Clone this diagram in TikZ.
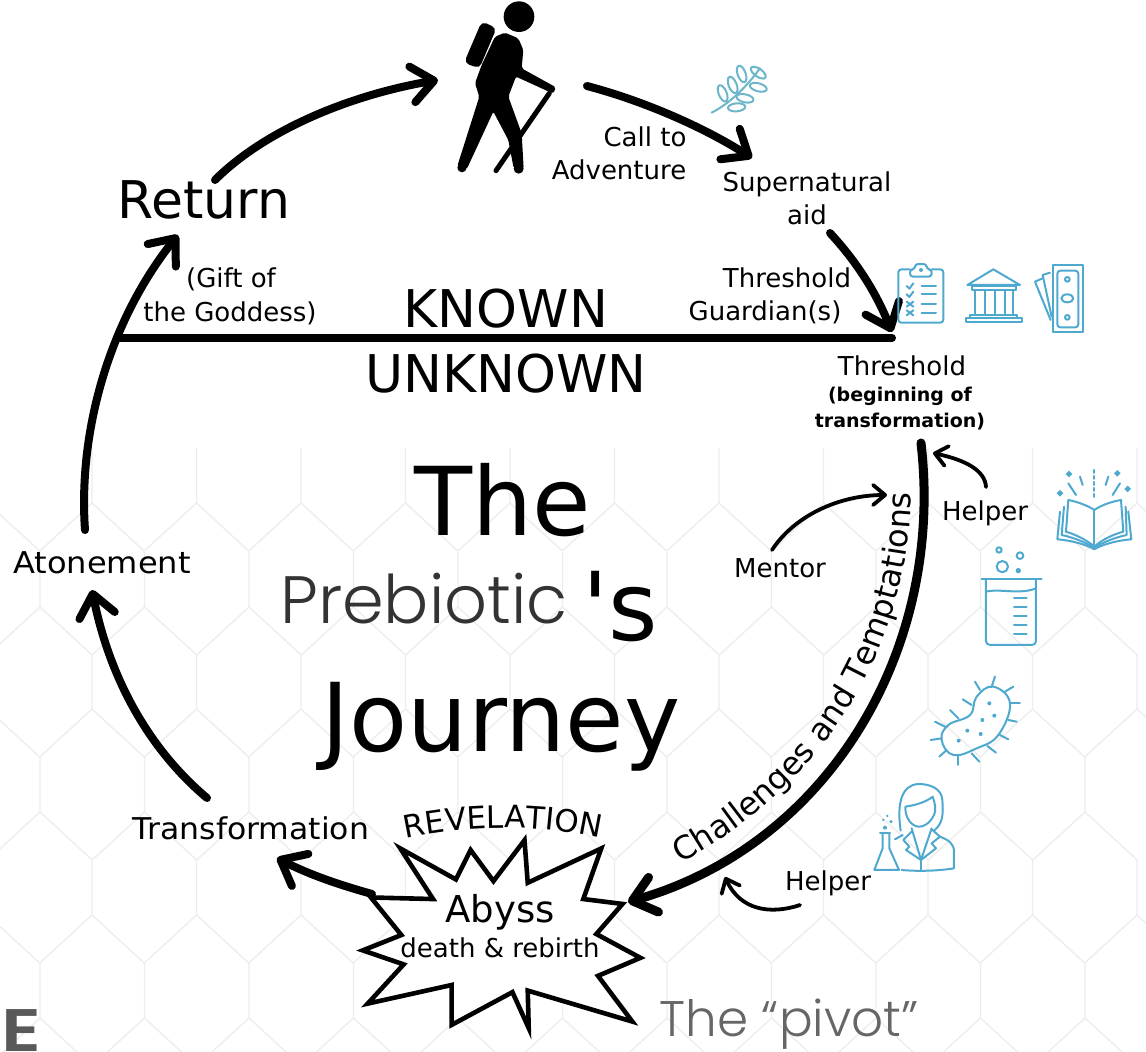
\documentclass[tikz,border=0pt]{standalone}
\usepackage{fontspec}
\setmainfont{DejaVu Sans}
\newfontfamily\plainfont{DejaVu Sans}
\newfontfamily\prefont{Poppins Light}
\newfontfamily\markfont{Poppins SemiBold}
\usetikzlibrary{arrows.meta,decorations.text}
\definecolor{iconblue}{HTML}{4FA9CF}
\definecolor{leafblue}{HTML}{6DB5C9}
\newcommand\sz[1]{\fontsize{#1}{#1}\selectfont}
\tikzset{
  word/.style={anchor=base,inner sep=0pt,font=\sz{26}},
  trail/.style={line width=8pt,line cap=round,-{Straight Barb[length=22pt,width=36pt,round]}},
  thin trail/.style={line width=3.8pt,line cap=round,-{Straight Barb[length=12pt,width=20pt,round]}},
  icon/.style={draw=iconblue,line width=2pt,line join=round,line cap=round},
  hexline/.style={draw=black!7,line width=1.4pt},
}
\begin{document}
\begin{tikzpicture}[x=1pt,y=-1pt]
\useasboundingbox (0,0) rectangle (1146,1052);

% background
\foreach \row/\xa in {448/92,552/40,654/92,757/40,860/92,963/40}{
  \foreach \i in {-1,...,10}{
    \draw[hexline] (\xa+104.5*\i,\row) -- (\xa+104.5*\i,\row+55)
      -- (\xa+104.5*\i+52.2,\row+103);
    \draw[hexline] (\xa+104.5*\i,\row+55) -- (\xa+104.5*\i-52.2,\row+103);
  }
}

% hiker
\begin{scope}[shift={(440,0)},scale=0.3333]
\fill (237,50) circle (46);
\draw[line width=10pt,line join=round,fill=black] (92,180) -- (133,84) -- (150,92) -- (110,186) -- cycle;
\fill[rounded corners=2pt] (195,98) -- (235,115) -- (250,150) -- (245,205) -- (348,262) -- (340,280)
  -- (320,272) -- (228,230) -- (205,290) -- (245,400) -- (251,505) -- (221,505)
  -- (205,420) -- (160,335) -- (80,508) -- (52,498) -- (118,290) -- (105,250)
  -- (125,195) -- (165,110) -- cycle;
\fill (66,503) circle (14);
\fill (236,506) circle (15);
\draw[line width=5pt,line cap=round] (328,280) -- (168,512);
\end{scope}

% main words
\node[word,font=\sz{52}] (return) at (204,218) {Return};
\node[word,font=\sz{52}] (known) at (506,327) {KNOWN};
\node[word,font=\sz{52}] (unknown) at (506,392) {UNKNOWN};
\node[word,font=\sz{95}] (the) at (503,535) {The};
\node[word,font=\plainfont\sz{95}] (apos) at (620,640) {'s};
\node[word,font=\sz{95}] (journey) at (501,751) {Journey};
\node[word,font=\prefont\sz{67},text=black!80] (prebiotic) at (424,623) {Prebiotic};
\node[word,font=\prefont\sz{50},text=black!60] (pivot) at (789,1036) {The “pivot”};
\node[word,font=\markfont\sz{60},xscale=1.25,text=black!65] (mark) at (21,1051) {E};

\node[word] (call) at (645,146) {Call to};
\node[word] (adventure) at (619,179) {Adventure};
\node[word] (supernatural) at (807,191) {Supernatural};
\node[word] (aid) at (807,224) {aid};
\node[word] (guardA) at (787,287) {Threshold};
\node[word] (guardB) at (765,320) {Guardian(s)};
\node[word] (gift) at (231,287) {(Gift of};
\node[word] (goddess) at (230,321) {the Goddess)};
\node[word] (threshold) at (902,375) {Threshold};
\node[word,font=\bfseries\sz{19}] (beginning) at (900,401) {(beginning of};
\node[word,font=\bfseries\sz{19}] (transf) at (900,427) {transformation)};
\node[word] (helperA) at (985,520) {Helper};
\node[word] (mentor) at (780,577) {Mentor};
\node[word] (helperB) at (828,890) {Helper};
\node[word,font=\sz{30},xscale=1.07] (atonement) at (102,573) {Atonement};
\node[word,font=\sz{30},xscale=1.05] (transformation) at (251,839) {Transformation};

% abyss
\begin{scope}[shift={(500,935)},scale=0.98,shift={(-500,-935)}]
\draw[fill=white,line width=4.6pt,miter limit=20] (398.3,846.7) -- (455,878.3) -- (470,848.3) -- (493.3,880)
  -- (525,838.3) -- (528.3,881.7) -- (603.3,846.7) -- (585,898.3) -- (625,903.3) -- (598.3,934)
  -- (643.3,958.3) -- (600,976.7) -- (635,1023.3) -- (528.3,991.7) -- (529.3,1030) -- (512.7,993.3)
  -- (450.7,1026.7) -- (450.7,986) -- (365,1005) -- (401.7,965) -- (360,950.7) -- (399.3,935)
  -- (368.3,896.7) -- (431.7,898.3) -- cycle;
\end{scope}
\node[word,font=\sz{37}] (abyss) at (500,922) {Abyss};
\node[word] (rebirth) at (500,957) {death \& rebirth};

% curved words
\path[decorate,decoration={text along path,text align=center,
  text={|\sz{31}|REVELATION}}] (398,840) .. controls (465,824) and (540,824) .. (608,840);
\path[decorate,decoration={text along path,text align=center,
  text={|\sz{32}|Challenges and Temptations}}] (682,862) .. controls (808,795) and (908,665) .. (911,495);

% connector ends
\coordinate (hikerin) at (438,80);
\coordinate (hikerout) at (587,86);
\coordinate (aidin) at (752,158);
\coordinate (aidout) at (830,233);
\coordinate (gate) at (892,332);
\coordinate (lineleft) at (118,338);
\coordinate (lineright) at (892,338);
\coordinate (gateout) at (921,443);
\coordinate (abyssin) at (628,902);
\coordinate (abyssout) at (372,894);
\coordinate (transfin) at (277,858);
\coordinate (transfout) at (207,798);
\coordinate (atonein) at (92,590);
\coordinate (atoneout) at (85,530);
\coordinate (returnin) at (178,235);
\coordinate (returnout) at (215,180);
\coordinate (helpAout) at (986,487);
\coordinate (helpAin) at (933,453);
\coordinate (mentorout) at (772,550);
\coordinate (mentorin) at (887,495);
\coordinate (helpBout) at (800,905);
\coordinate (helpBin) at (725,877);

\draw[trail] (atoneout) .. controls (78,430) and (110,320) .. (returnin);
\draw[trail] (returnout) .. controls (265,130) and (350,95) .. (hikerin);
\draw[trail] (hikerout) .. controls (640,100) and (700,125) .. (aidin);
\draw[trail] (aidout) .. controls (855,260) and (875,290) .. (gate);
\draw[line width=8pt,line cap=round] (lineleft) -- (lineright);
\draw[trail,line width=9pt] (gateout) .. controls (945,650) and (828,845) .. (abyssin);
\draw[trail] (abyssout) .. controls (340,885) and (310,875) .. (transfin);
\draw[trail] (transfout) .. controls (150,750) and (110,680) .. (atonein);
\draw[thin trail] (helpAout) .. controls (985,470) and (965,460) .. (helpAin);
\draw[thin trail] (mentorout) .. controls (795,515) and (840,495) .. (mentorin);
\draw[thin trail] (helpBout) .. controls (770,915) and (740,910) .. (helpBin);

% icons
\begin{scope}[shift={(440,0)},scale=0.3333,icon/.append style={draw=leafblue}]
\draw[icon] (815,338) .. controls (870,310) and (920,260) .. (960,205);
\foreach \lx/\ly/\la in {848/280/-68,878/255/-68,905/222/-70,955/218/-35,955/262/-15,915/295/-12,890/322/5}
  \draw[icon] (\lx,\ly) ellipse[x radius=26,y radius=12,rotate=\la];
\end{scope}

\begin{scope}[shift={(860,250)},scale=0.3333]
% clipboard
\draw[icon,rounded corners=3pt] (150,58) -- (115,58) -- (115,218) -- (250,218) -- (250,58) -- (215,58);
\draw[icon,rounded corners=3pt] (150,80) -- (150,58) -- (165,58) -- (165,42) -- (200,42) -- (200,58) -- (215,58) -- (215,80) -- cycle;
\fill[iconblue] (183,60) circle (6);
\foreach \ry in {108,133,162,188}
  \draw[icon] (185,\ry) -- (228,\ry);
\draw[icon] (140,108) -- (148,116) -- (160,100);
\draw[icon] (140,133) -- (148,141) -- (160,125);
\draw[icon] (140,155) -- (160,170) (160,155) -- (140,170);
\draw[icon] (140,181) -- (160,196) (160,181) -- (140,196);
% bank
\draw[icon] (322,105) -- (400,58) -- (480,105) -- cycle;
\draw[icon] (335,108) rectangle (468,120);
\foreach \cx in {345,375,405,435,460}
  \draw[icon] (\cx,120) -- (\cx,195);
\draw[icon] (330,195) rectangle (470,205);
\draw[icon] (318,205) rectangle (487,215);
% banknotes
\draw[icon] (580,45) rectangle (668,245);
\draw[icon,rounded corners=3pt] (592,62) rectangle (655,232);
\draw[icon] (622,145) ellipse[x radius=18,y radius=12];
\draw[icon] (622,88) circle (7);
\draw[icon] (622,202) circle (7);
\draw[icon] (570,68) -- (548,75) -- (575,200);
\draw[icon] (548,85) -- (525,95) -- (572,210);
% book
\draw[icon] (703,780) -- (703,890);
\draw[icon] (703,780) .. controls (680,765) and (650,755) .. (625,750) -- (618,845) .. controls (650,855) and (680,870) .. (703,890);
\draw[icon] (703,780) .. controls (725,765) and (755,755) .. (783,750) -- (790,845) .. controls (755,855) and (725,870) .. (703,890);
\draw[icon] (612,770) -- (605,855) .. controls (650,865) and (680,880) .. (703,893) .. controls (725,880) and (755,865) .. (800,855) -- (797,770);
\draw[icon] (600,785) -- (592,868) .. controls (640,872) and (680,885) .. (703,898) .. controls (725,885) and (765,872) .. (814,868) -- (805,785);
\draw[icon,dashed] (703,660) -- (703,750);
\draw[icon] (660,680) -- (668,705) (625,700) -- (648,735) (745,680) -- (737,705) (780,700) -- (758,735);
\foreach \bx/\by in {627/672,600/730,772/670,803/717}
  \fill[iconblue] (\bx-10,\by) -- (\bx,\by-10) -- (\bx+10,\by) -- (\bx,\by+10) -- cycle;
% beaker
\draw[icon] (365,987) -- (545,987);
\draw[icon,rounded corners=4pt] (378,990) -- (378,1185) -- (528,1185) -- (528,990);
\draw[icon] (378,1025) .. controls (420,1015) and (480,1035) .. (528,1015);
\foreach \ty in {1045,1072,1098,1125,1152}
  \draw[icon] (462,\ty) -- (500,\ty);
\draw[icon] (417,900) circle (8);
\draw[icon] (480,917) circle (10);
\draw[icon] (427,950) circle (17);
\fill[iconblue] (475,962) circle (8);
\end{scope}

\begin{scope}[shift={(780,640)},scale=0.3333]
% bacterium
\draw[icon] plot[smooth cycle,tension=0.7] coordinates {(640,140) (690,190) (655,285) (590,325) (520,345) (485,300) (505,255) (570,225) (590,170)};
\foreach \ax/\ay/\bx/\by in {645/110/635/140,700/140/675/155,720/190/690/190,710/245/685/240,685/298/660/285,648/338/622/318,598/365/575/340,535/375/535/345,478/350/500/330,452/300/485/295,465/245/495/260,510/210/535/235,548/178/575/195,585/125/600/150}
  \draw[icon] (\ax,\ay) -- (\bx,\by);
\foreach \dx/\dy in {628/190,643/227,607/240,562/272,602/282,536/302}
  \fill[iconblue] (\dx,\dy) circle (6);
% scientist
\draw[icon] (362,572) .. controls (350,490) and (365,435) .. (415,432) .. controls (450,432) and (485,445) .. (487,480) .. controls (490,520) and (490,550) .. (462,572);
\draw[icon] (376,500) .. controls (410,495) and (440,485) .. (458,470) .. controls (465,490) and (470,510) .. (462,525) .. controls (450,550) and (430,562) .. (415,560) .. controls (395,558) and (375,535) .. (376,500);
\draw[icon] (395,565) -- (423,660) -- (455,565);
\draw[icon] (395,575) -- (370,600) -- (388,620) -- (378,630) -- (423,660) -- (468,625) -- (455,610) -- (480,590) -- (455,568);
\draw[icon] (480,590) .. controls (505,600) and (522,610) .. (522,635) -- (522,685) .. controls (480,692) and (420,695) .. (365,690);
\draw[icon] (423,660) -- (423,692);
\draw[icon] (345,598) -- (368,585);
\draw[icon] (300,578) -- (330,578);
\draw[icon] (308,580) -- (308,625) -- (283,690) -- (357,690) -- (328,625) -- (328,580);
\fill[iconblue] (315,563) circle (6);
\fill[iconblue] (310,540) circle (4);
\fill[iconblue] (322,528) circle (4);
\fill[iconblue] (333,545) circle (5);
\end{scope}
\end{tikzpicture}
\end{document}
